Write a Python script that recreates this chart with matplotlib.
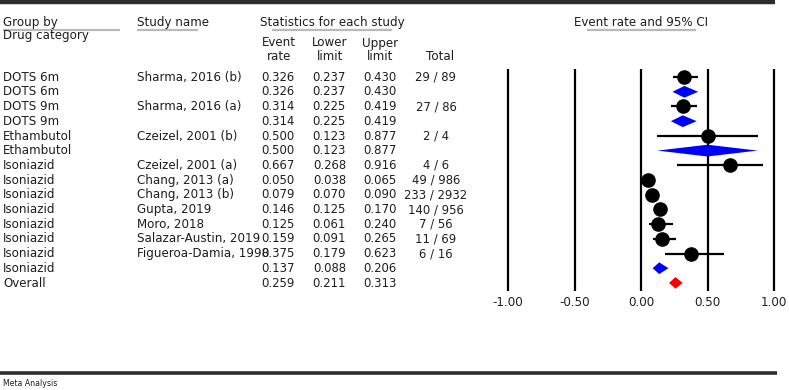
import matplotlib
matplotlib.use('Agg')
import matplotlib.pyplot as plt
from matplotlib.ticker import FormatStrFormatter
import numpy as np

plt.rcParams['font.family'] = ['DejaVu Sans']
plt.rcParams['axes.unicode_minus'] = False

# ---------------- data ----------------
groups = ['DOTS 6m', 'DOTS 6m', 'DOTS 9m', 'DOTS 9m', 'Ethambutol', 'Ethambutol',
          'Isoniazid', 'Isoniazid', 'Isoniazid', 'Isoniazid', 'Isoniazid',
          'Isoniazid', 'Isoniazid', 'Isoniazid', 'Overall']
studies = ['Sharma, 2016 (b)', '', 'Sharma, 2016 (a)', '', 'Czeizel, 2001 (b)', '',
           'Czeizel, 2001 (a)', 'Chang, 2013 (a)', 'Chang, 2013 (b)', 'Gupta, 2019',
           'Moro, 2018', 'Salazar-Austin, 2019', 'Figueroa-Damia, 1998', '', '']
event_rate = [0.326, 0.326, 0.314, 0.314, 0.500, 0.500, 0.667, 0.050, 0.079,
              0.146, 0.125, 0.159, 0.375, 0.137, 0.259]
lower_limit = [0.237, 0.237, 0.225, 0.225, 0.123, 0.123, 0.268, 0.038, 0.070,
               0.125, 0.061, 0.091, 0.179, 0.088, 0.211]
upper_limit = [0.430, 0.430, 0.419, 0.419, 0.877, 0.877, 0.916, 0.065, 0.090,
               0.170, 0.240, 0.265, 0.623, 0.206, 0.313]
totals = ['29 / 89', '', '27 / 86', '', '2 / 4', '', '4 / 6', '49 / 986',
          '233 / 2932', '140 / 956', '7 / 56', '11 / 69', '6 / 16', '', '']
row_kind = ['study', 'subgroup', 'study', 'subgroup', 'study', 'subgroup',
            'study', 'study', 'study', 'study', 'study', 'study', 'study',
            'subgroup', 'overall']
xticks = [-1.0, -0.5, 0.0, 0.5, 1.0]

# ---------------- layout ----------------
W, H = 789, 390
fig = plt.figure(figsize=(W / 100, H / 100), dpi=100)
TXT = '#1e1e1e'
FS_T = 8.6   # text
FS_N = 8.4   # numbers in the table

top_px, bot_px = 69, 291
left_px, right_px = 508, 774
n = len(groups)
rows = np.arange(1, n + 1)
ylim = (n + 0.55, 0.45)

# overlay (pixel coords) for header and rules
ov = fig.add_axes([0, 0, 1, 1])
ov.set_xlim(0, W)
ov.set_ylim(H, 0)
ov.axis('off')

ov.plot([0, 775], [2, 2], color='#2e2e2e', lw=3.2, solid_capstyle='butt')
ov.plot([0, 777], [373, 373], color='#2e2e2e', lw=2.6, solid_capstyle='butt')
ov.text(3, 384, 'Meta Analysis', fontsize=5.6, color=TXT, va='center', ha='left')

ul = '#b9b9b9'
for x0, x1 in [(3, 120), (137, 198), (272, 392), (587, 696)]:
    ov.plot([x0, x1], [30, 30], color=ul, lw=1.6, solid_capstyle='butt')

ov.text(3, 26, 'Group by', fontsize=FS_T, color=TXT, va='baseline')
ov.text(3, 38.5, 'Drug category', fontsize=FS_T, color=TXT, va='baseline')
ov.text(137, 26, 'Study name', fontsize=FS_T, color=TXT, va='baseline')
ov.text(332, 26, 'Statistics for each study', fontsize=FS_T, color=TXT,
        va='baseline', ha='center')
ov.text(641, 26, 'Event rate and 95% CI', fontsize=FS_T, color=TXT,
        va='baseline', ha='center')
for cx, l1, l2 in [(279, 'Event', 'rate'), (330, 'Lower', 'limit'),
                   (380, 'Upper', 'limit')]:
    ov.text(cx, 46.5, l1, fontsize=FS_T, color=TXT, va='baseline', ha='center')
    ov.text(cx, 60.5, l2, fontsize=FS_T, color=TXT, va='baseline', ha='center')
ov.text(440, 60.5, 'Total', fontsize=FS_T, color=TXT, va='baseline', ha='center')

# table axes (x in pixels, y in rows)
tb = fig.add_axes([0, 1 - bot_px / H, 1, (bot_px - top_px) / H])
tb.set_xlim(0, W)
tb.set_ylim(*ylim)
tb.axis('off')
for r, g, s, e, lo, hi, t in zip(rows, groups, studies, event_rate,
                                 lower_limit, upper_limit, totals):
    yb = r + 0.25
    tb.text(3, yb, g, fontsize=FS_T, color=TXT, va='baseline')
    tb.text(137, yb, s, fontsize=FS_T, color=TXT, va='baseline')
    tb.text(295, yb, f'{e:.3f}', fontsize=FS_N, color=TXT, va='baseline', ha='right')
    tb.text(346, yb, f'{lo:.3f}', fontsize=FS_N, color=TXT, va='baseline', ha='right')
    tb.text(397, yb, f'{hi:.3f}', fontsize=FS_N, color=TXT, va='baseline', ha='right')
    tb.text(436, yb, t, fontsize=FS_N, color=TXT, va='baseline', ha='center')

# forest axes
ax = fig.add_axes([left_px / W, 1 - bot_px / H, (right_px - left_px) / W,
                   (bot_px - top_px) / H])
ax.set_xlim(-1, 1)
ax.set_ylim(*ylim)
ax.patch.set_visible(False)
for sp in ax.spines.values():
    sp.set_visible(False)
ax.vlines(xticks, ylim[0], ylim[1], color='black', lw=1.6, clip_on=False, zorder=1)

h = 0.4
for r, e, lo, hi, k in zip(rows, event_rate, lower_limit, upper_limit, row_kind):
    if k == 'study':
        ax.hlines(r, lo, hi, color='black', lw=1.6, zorder=2)
        ax.plot([e], [r], 'o', color='black', ms=9.5, zorder=3)
    else:
        col = 'blue' if k == 'subgroup' else 'red'
        ax.fill([lo, e, hi, e], [r, r - h, r, r + h], color=col, lw=0, zorder=3)

ax.set_xticks(xticks)
ax.xaxis.set_major_formatter(FormatStrFormatter('%.2f'))
ax.set_yticks([])
ax.tick_params(axis='x', length=0, pad=3.5, labelsize=8.6, labelcolor=TXT)

fig.savefig('out.png', dpi=100)
